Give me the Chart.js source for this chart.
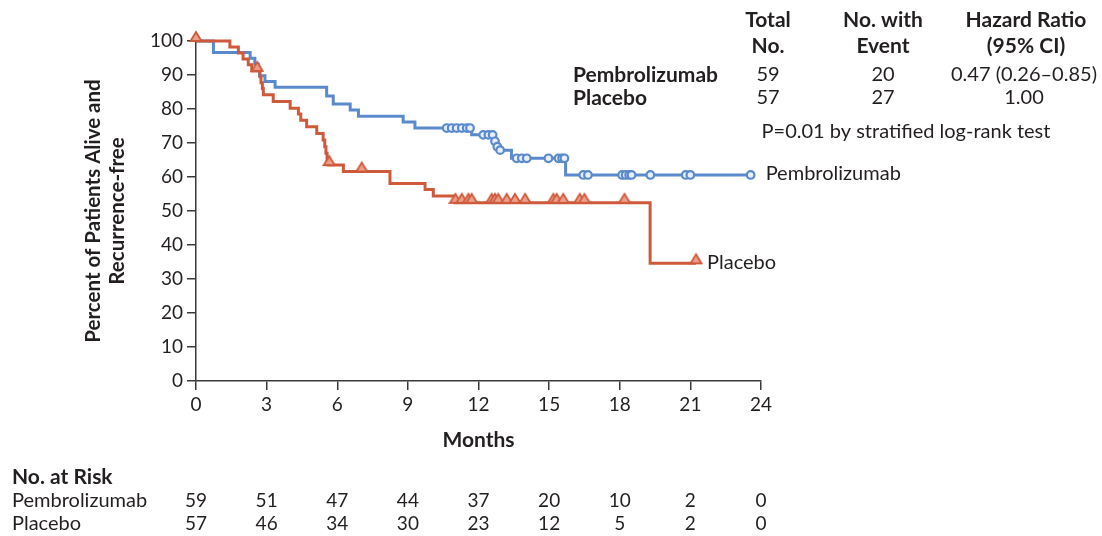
<!DOCTYPE html>
<html>
<head>
<meta charset="utf-8">
<script src="https://cdn.jsdelivr.net/npm/chart.js@4.4.1/dist/chart.umd.min.js"></script>
<style>
  html, body { margin: 0; padding: 0; background: #ffffff; }
  #wrap { width: 1102px; height: 536px; }
</style>
</head>
<body>
<div id="wrap"><canvas id="km" width="1102" height="536"></canvas></div>
<script>
// Axis ticks
const monthTicks = [0, 3, 6, 9, 12, 15, 18, 21, 24];
const percentTicks = [0, 10, 20, 30, 40, 50, 60, 70, 80, 90, 100];

// Kaplan-Meier steps: time of each drop (months) and survival after it (%)
const pembroTimes = [0, 0.74, 2.3, 2.5, 2.64, 2.7, 2.93, 3.36, 5.55, 5.83, 6.55, 6.9, 8.8, 9.3, 11.71, 12.63, 12.75, 12.85, 13.4, 15.7, 23.56];
const pembroSurv  = [100, 96.6, 94.9, 93.2, 91.5, 89.8, 88.1, 86.4, 83.8, 81.5, 79.7, 77.9, 76.2, 74.4, 72.4, 70.5, 68.9, 67.9, 65.5, 60.6, 60.6];

const placeboTimes = [0, 1.44, 1.8, 2.0, 2.22, 2.37, 2.72, 2.76, 2.82, 2.86, 3.28, 4.0, 4.35, 4.45, 4.7, 5.13, 5.4, 5.47, 5.52, 5.57, 5.62, 6.26, 8.24, 9.73, 10.08, 11.0, 19.29, 21.24];
const placeboSurv  = [100, 98.2, 96.5, 94.7, 93.0, 91.2, 89.5, 87.7, 86.0, 84.2, 82.2, 80.2, 78.5, 76.7, 74.8, 72.8, 70.9, 68.9, 67.0, 65.0, 63.5, 61.6, 58.1, 56.3, 54.4, 52.4, 34.6, 34.6];

// Censoring times (months)
const pembroCensor = [10.65, 10.86, 11.07, 11.29, 11.5, 11.64, 12.2, 12.42, 12.6, 12.7, 12.8, 12.92, 13.62, 13.84, 14.05, 14.97, 15.4, 15.55, 15.65, 16.45, 16.65, 18.1, 18.25, 18.4, 18.5, 19.3, 20.8, 21.0, 23.56];
const placeboCensor = [0, 2.6, 5.66, 7.04, 11.02, 11.29, 11.57, 11.71, 12.56, 12.7, 12.84, 13.2, 13.55, 13.98, 15.18, 15.32, 15.6, 16.3, 16.5, 18.2, 21.24];

// Numbers at risk
const groups = ['Pembrolizumab', 'Placebo'];
const riskPembro  = [59, 51, 47, 44, 37, 20, 10, 2, 0];
const riskPlacebo = [57, 46, 34, 30, 23, 12, 5, 2, 0];

// Summary table
const totalNo   = ['59', '57'];
const withEvent = ['20', '27'];
const hazard    = ['0.47 (0.26\u20130.85)', '1.00'];
const pText     = 'P=0.01 by stratified log-rank test';

const BLUE = '#5a8acc';
const RED  = '#cf5a3b';
const INK  = '#231f20';
const FONT = 'Lato, "Open Sans", sans-serif';
const REG  = '20px ' + FONT;
const BOLD = 'bold 21px ' + FONT;

function toPoints(ts, ss) { return ts.map((t, i) => ({ x: t, y: ss[i] })); }
function survAt(ts, ss, t) {
  let v = ss[0];
  for (let i = 0; i < ts.length; i++) { if (ts[i] <= t) v = ss[i]; }
  return v;
}

// triangle sitting with its base on the point
function makeTriangle(size, stroke, fill) {
  const c = document.createElement('canvas');
  c.width = size + 4; c.height = 2 * size + 4;
  const g = c.getContext('2d');
  const cx = c.width / 2, base = c.height / 2;
  g.beginPath();
  g.moveTo(cx, base - size + 1);
  g.lineTo(cx + size / 2 + 0.5, base);
  g.lineTo(cx - size / 2 - 0.5, base);
  g.closePath();
  g.fillStyle = fill; g.fill();
  g.lineWidth = 1.8; g.strokeStyle = stroke; g.stroke();
  return c;
}
const tri = makeTriangle(10, RED, '#eb9e89');

const textPlugin = {
  id: 'kmText',
  afterDraw(chart) {
    const ctx = chart.ctx;
    const xs = chart.scales.x, ys = chart.scales.y;
    ctx.save();
    ctx.fillStyle = INK;
    ctx.textBaseline = 'middle';

    // y axis title (two lines)
    ctx.save();
    ctx.translate(105, 211);
    ctx.rotate(-Math.PI / 2);
    ctx.textAlign = 'center';
    ctx.font = 'bold 20.5px ' + FONT;
    ctx.fillText('Percent of Patients Alive and', 0, -12);
    ctx.fillText('Recurrence-free', 0, 12);
    ctx.restore();

    // x axis title
    ctx.textAlign = 'center';
    ctx.font = BOLD;
    ctx.fillText('Months', (xs.left + xs.right) / 2, 440);

    // curve labels
    ctx.textAlign = 'left';
    ctx.font = REG;
    const pEnd = pembroTimes[pembroTimes.length - 1];
    const qEnd = placeboTimes[placeboTimes.length - 1];
    ctx.fillText('Pembrolizumab', xs.getPixelForValue(pEnd) + 15, ys.getPixelForValue(survAt(pembroTimes, pembroSurv, pEnd)) - 1);
    ctx.fillText('Placebo', xs.getPixelForValue(qEnd) + 11, ys.getPixelForValue(survAt(placeboTimes, placeboSurv, qEnd)) - 1);

    // numbers at risk
    ctx.font = BOLD;
    ctx.fillText('No. at Risk', 12, 477);
    ctx.font = REG;
    ctx.fillText(groups[0], 12, 501);
    ctx.fillText(groups[1], 12, 524);
    ctx.textAlign = 'center';
    ctx.font = '19px ' + FONT;
    monthTicks.forEach((m, i) => {
      const px = xs.getPixelForValue(m);
      ctx.fillText(String(riskPembro[i]), px, 501);
      ctx.fillText(String(riskPlacebo[i]), px, 524);
    });

    // summary table
    ctx.font = BOLD;
    ctx.textAlign = 'center';
    ctx.fillText('Total', 768, 20);
    ctx.fillText('No.', 768, 46);
    ctx.fillText('No. with', 883, 20);
    ctx.fillText('Event', 883, 46);
    ctx.fillText('Hazard Ratio', 1026, 20);
    ctx.fillText('(95% CI)', 1026, 46);
    ctx.textAlign = 'left';
    ctx.fillText(groups[0], 573, 75);
    ctx.fillText(groups[1], 573, 98);
    ctx.font = REG;
    ctx.textAlign = 'center';
    [75, 98].forEach((yy, i) => {
      ctx.fillText(totalNo[i], 768, yy);
      ctx.fillText(withEvent[i], 883, yy);
      ctx.fillText(hazard[i], 1024, yy);
    });
    ctx.fillText(pText, 906, 132);
    ctx.restore();
  }
};

new Chart(document.getElementById('km'), {
  type: 'line',
  data: {
    datasets: [
      {
        label: groups[0],
        data: toPoints(pembroTimes, pembroSurv),
        borderColor: BLUE, borderWidth: 3, stepped: 'before',
        pointRadius: 0, fill: false, clip: false, order: 2
      },
      {
        label: groups[1],
        data: toPoints(placeboTimes, placeboSurv),
        borderColor: RED, borderWidth: 3, stepped: 'before',
        pointRadius: 0, fill: false, clip: false, order: 1
      },
      {
        type: 'scatter',
        label: groups[0] + ' censored',
        data: pembroCensor.map(t => ({ x: t, y: survAt(pembroTimes, pembroSurv, t) })),
        pointStyle: 'circle', pointRadius: 3.8, borderWidth: 2.2,
        borderColor: BLUE, backgroundColor: '#e9eff9', clip: false, order: 0
      },
      {
        type: 'scatter',
        label: groups[1] + ' censored',
        data: placeboCensor.map(t => ({ x: t, y: survAt(placeboTimes, placeboSurv, t) })),
        pointStyle: tri, clip: false, order: -1
      }
    ]
  },
  options: {
    responsive: false,
    animation: false,
    events: [],
    layout: { padding: { top: 41, right: 341, left: 0, bottom: 0 } },
    plugins: { legend: { display: false }, tooltip: { enabled: false } },
    scales: {
      x: {
        type: 'linear', min: 0, max: 24,
        afterBuildTicks: s => { s.ticks = monthTicks.map(v => ({ value: v })); },
        afterFit: s => { s.height = 155; },
        ticks: { color: INK, font: { family: FONT, size: 19 }, padding: 3, maxRotation: 0 },
        grid: { display: true, drawOnChartArea: false, drawTicks: true, tickLength: 9, color: '#3a3a3a', lineWidth: 1.5 },
        border: { display: true, color: '#3a3a3a', width: 1.5 }
      },
      y: {
        type: 'linear', min: 0, max: 100,
        afterBuildTicks: s => { s.ticks = percentTicks.map(v => ({ value: v })); },
        afterFit: s => { s.width = 196; },
        ticks: { color: INK, font: { family: FONT, size: 19 }, padding: 4 },
        grid: { display: true, drawOnChartArea: false, drawTicks: true, tickLength: 9, color: '#3a3a3a', lineWidth: 1.5 },
        border: { display: true, color: '#3a3a3a', width: 1.5 }
      }
    }
  },
  plugins: [textPlugin]
});
</script>
</body>
</html>
